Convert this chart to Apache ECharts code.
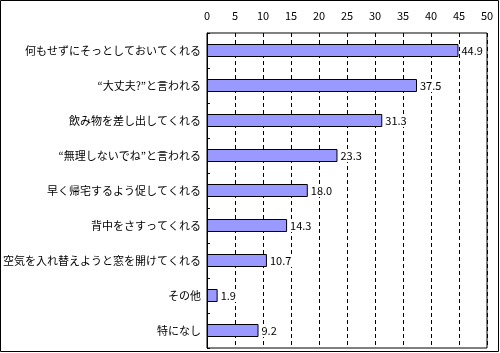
<!DOCTYPE html>
<html>
<head>
<meta charset="utf-8">
<script src="https://cdn.jsdelivr.net/npm/echarts@6/dist/echarts.min.js"></script>
<style>
  html, body { margin: 0; padding: 0; background: #fff; }
  #chart { width: 500px; height: 353px; }
</style>
</head>
<body>
<div id="chart"></div>
<script>
// 項目名
var categories = [
  '何もせずにそっとしておいてくれる',
  '“大丈夫?”と言われる',
  '飲み物を差し出してくれる',
  '“無理しないでね”と言われる',
  '早く帰宅するよう促してくれる',
  '背中をさすってくれる',
  '空気を入れ替えようと窓を開けてくれる',
  'その他',
  '特になし'
];
// 回答率(%)
var values = [44.9, 37.5, 31.3, 23.3, 18.0, 14.3, 10.7, 1.9, 9.2];
// x軸の目盛
var xTicks = [0, 5, 10, 15, 20, 25, 30, 35, 40, 45, 50];

var chart = echarts.init(document.getElementById('chart'));
var font = '"Noto Sans CJK JP", sans-serif';

var option = {
  animation: false,
  backgroundColor: '#fff',
  graphic: [{
    type: 'rect',
    shape: { x: 0.5, y: 0.5, width: 498, height: 351 },
    style: { fill: 'none', stroke: '#000', lineWidth: 1 },
    silent: true
  }],
  grid: {
    left: 207,
    top: 33,
    width: 280,
    height: 315,
    show: true,
    borderColor: '#000',
    borderWidth: 1,
    backgroundColor: '#fff'
  },
  xAxis: {
    type: 'value',
    position: 'top',
    min: xTicks[0],
    max: xTicks[xTicks.length - 1],
    interval: 5,
    axisLine: { show: false },
    axisTick: { show: false },
    axisLabel: { color: '#000', fontSize: 11, fontFamily: font, margin: 12 },
    splitLine: { show: true, lineStyle: { color: '#000', width: 1, type: [4, 3] } }
  },
  yAxis: {
    type: 'category',
    inverse: true,
    data: categories,
    axisLine: { show: true, lineStyle: { color: '#000' } },
    axisTick: { show: true, inside: true, length: 3, lineStyle: { color: '#000' } },
    axisLabel: { color: '#000', fontSize: 11, fontFamily: font, margin: 6 }
  },
  series: [{
    type: 'bar',
    data: values,
    barWidth: 13,
    itemStyle: { color: '#9999FF', borderColor: '#000', borderWidth: 1 },
    label: {
      show: true,
      position: 'right',
      distance: 2,
      color: '#000',
      fontSize: 11,
      fontFamily: font,
      backgroundColor: '#fff',
      padding: [1, 1],
      formatter: function (p) { return p.value.toFixed(1); }
    }
  }]
};

chart.setOption(option);
</script>
</body>
</html>
